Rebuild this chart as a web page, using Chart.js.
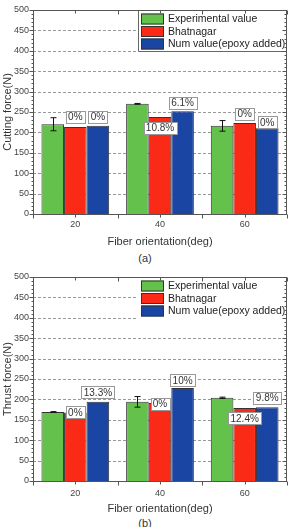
<!doctype html>
<html lang="en">
<head>
<meta charset="UTF-8">
<title>Cutting and thrust force</title>
<script src="https://cdn.jsdelivr.net/npm/chart.js@4.4.0/dist/chart.umd.min.js"></script>
<style>
  body { margin: 0; background: #fff; width: 290px; height: 527px; overflow: hidden; font-family: "Liberation Sans", Arial, sans-serif; }
  .box { position: relative; width: 290px; height: 250px; }
  .cap { height: 17px; line-height: 17px; text-align: center; font-size: 11px; color: #333; }
</style>
</head>
<body>
<div class="box"><canvas id="chartA"></canvas></div>
<div class="cap">(a)</div>
<div class="box"><canvas id="chartB"></canvas></div>
<div class="cap" style="line-height:12px">(b)</div>
<script>
// data
const orientations = ['20', '40', '60'];
const seriesNames = ['Experimental value', 'Bhatnagar', 'Num value(epoxy added)'];

const cutExp = [220, 270, 216];
const cutExpErr = [16, 1, 13];
const cutBhat = [213, 238, 223];
const cutNum = [216, 252, 210];
const cutBhatTags = ['0%', '10.8%', '0%'];
const cutNumTags = ['0%', '6.1%', '0%'];

const thrExp = [169, 194, 204];
const thrExpErr = [1, 13, 1.5];
const thrBhat = [168, 191, 179];
const thrNum = [194, 228, 181];
const thrBhatTags = ['0%', '0%', '12.4%'];
const thrNumTags = ['13.3%', '10%', '9.8%'];

const yTicks = [0, 50, 100, 150, 200, 250, 300, 350, 400, 450, 500];

const green = '#64c14c';
const red = '#fb2a17';
const blue = '#1b45a3';
const font = '"Liberation Sans", Arial, sans-serif';

// where the boxed % labels sit, px from bar top (centre of box)
const cutBhatOff = [-10, 11, -9.5];
const cutNumOff = [-9, -8.5, -6];
const thrBhatOff = [0, 1, 10.5];
const thrNumOff = [-9.5, -7.5, -9.5];

const dashGrid = {
  id: 'dashGrid',
  beforeDatasetsDraw(chart) {
    const ctx = chart.ctx;
    const a = chart.chartArea;
    const y = chart.scales.y;
    ctx.save();
    ctx.strokeStyle = '#999';
    ctx.lineWidth = 1;
    ctx.setLineDash([3, 2]);
    ctx.beginPath();
    yTicks.slice(1, -1).forEach(v => {
      const py = Math.round(y.getPixelForValue(v)) + 0.5;
      ctx.moveTo(a.left, py); ctx.lineTo(a.right, py);
    });
    ctx.stroke();
    ctx.restore();
  }
};

const errorBars = {
  id: 'errorBars',
  afterDatasetsDraw(chart) {
    const ds = chart.data.datasets[0];
    const meta = chart.getDatasetMeta(0);
    const y = chart.scales.y;
    const ctx = chart.ctx;
    ctx.save();
    ctx.strokeStyle = '#111';
    ctx.lineWidth = 1;
    meta.data.forEach((bar, i) => {
      const e = ds.errors[i];
      const top = y.getPixelForValue(ds.data[i] + e);
      const bot = y.getPixelForValue(ds.data[i] - e);
      const x = Math.round(bar.x) + 0.5;
      ctx.beginPath();
      ctx.moveTo(x, top); ctx.lineTo(x, bot);
      ctx.moveTo(x - 3, top); ctx.lineTo(x + 3, top);
      ctx.moveTo(x - 3, bot); ctx.lineTo(x + 3, bot);
      ctx.stroke();
    });
    ctx.restore();
  }
};

const boxTags = {
  id: 'boxTags',
  afterDatasetsDraw(chart) {
    const ctx = chart.ctx;
    ctx.save();
    ctx.font = '10px ' + font;
    ctx.textAlign = 'center';
    ctx.textBaseline = 'middle';
    [1, 2].forEach(d => {
      const ds = chart.data.datasets[d];
      chart.getDatasetMeta(d).data.forEach((bar, i) => {
        const t = ds.tags[i];
        const w = Math.round(ctx.measureText(t).width) + 5;
        const h = 12;
        const cy = bar.y + ds.tagOffsets[i];
        const x0 = Math.round(bar.x - w / 2) + 0.5;
        const y0 = Math.round(cy - h / 2) + 0.5;
        ctx.fillStyle = '#fff';
        ctx.fillRect(x0, y0, w, h);
        ctx.strokeStyle = '#999';
        ctx.lineWidth = 1;
        ctx.strokeRect(x0, y0, w, h);
        ctx.fillStyle = '#333';
        ctx.fillText(t, bar.x, cy + 0.5);
      });
    });
    ctx.restore();
  }
};

const insideLegend = {
  id: 'insideLegend',
  afterDraw(chart, args, opts) {
    const ctx = chart.ctx;
    const a = chart.chartArea;
    const left = a.right - 149;
    ctx.save();
    ctx.fillStyle = '#fff';
    ctx.fillRect(left, a.top + 1, a.right - left, 41);
    if (opts.border) {
      ctx.strokeStyle = '#666';
      ctx.lineWidth = 1;
      ctx.beginPath();
      ctx.moveTo(left + 0.5, a.top); ctx.lineTo(left + 0.5, a.top + 41.5);
      ctx.lineTo(a.right, a.top + 41.5);
      ctx.stroke();
    }
    ctx.font = '10.5px ' + font;
    ctx.textBaseline = 'middle';
    chart.data.datasets.forEach((ds, i) => {
      const ty = a.top + 3.5 + i * 12.5;
      ctx.fillStyle = ds.backgroundColor;
      ctx.fillRect(left + 3, ty, 23, 11);
      ctx.strokeStyle = '#333';
      ctx.strokeRect(left + 3.5, ty + 0.5, 22, 10);
      ctx.fillStyle = '#222';
      ctx.fillText(ds.label, left + 30, ty + 6);
    });
    ctx.restore();
  }
};

const frame = {
  id: 'frame',
  afterDraw(chart) {
    const ctx = chart.ctx;
    const a = chart.chartArea;
    const y = chart.scales.y;
    ctx.save();
    ctx.strokeStyle = '#555';
    ctx.lineWidth = 1;
    const L = Math.round(a.left) + 0.5, R = Math.round(a.right) - 0.5;
    const T = Math.round(a.top) + 0.5, B = Math.round(a.bottom) + 0.5;
    ctx.strokeRect(L, T, R - L, B - T);
    ctx.beginPath();
    for (let v = 0; v <= 500; v += 10) {
      const py = Math.round(y.getPixelForValue(v)) + 0.5;
      const len = v % 50 === 0 ? 4 : 2;
      ctx.moveTo(L - len, py); ctx.lineTo(L, py);
      ctx.moveTo(R, py); ctx.lineTo(R - len, py);
    }
    const step = (a.right - a.left) / orientations.length;
    for (let k = 0; k <= orientations.length * 2; k++) {
      const px = Math.round(a.left + k * step / 2) + 0.5;
      const len = k % 2 === 0 ? 4 : 3;
      ctx.moveTo(px, B); ctx.lineTo(px, B + len);
      ctx.moveTo(px, T); ctx.lineTo(px, T + len);
    }
    ctx.stroke();
    ctx.restore();
  }
};

function makeChart(id, yTitle, exp, err, bhat, num, bhatTags, numTags, bhatOff, numOff, tickPad, legendBorder) {
  return new Chart(document.getElementById(id), {
    type: 'bar',
    data: {
      labels: orientations,
      datasets: [
        { label: seriesNames[0], data: exp, backgroundColor: green, borderColor: '#333', borderWidth: 1, errors: err },
        { label: seriesNames[1], data: bhat, backgroundColor: red, borderColor: '#333', borderWidth: 1, tags: bhatTags, tagOffsets: bhatOff },
        { label: seriesNames[2], data: num, backgroundColor: blue, borderColor: '#333', borderWidth: 1, tags: numTags, tagOffsets: numOff }
      ]
    },
    options: {
      responsive: true,
      maintainAspectRatio: false,
      animation: false,
      layout: { padding: { top: 10, right: 3, left: 0, bottom: 0 } },
      datasets: { bar: { categoryPercentage: 0.8, barPercentage: 1.0 } },
      plugins: {
        legend: { display: false },
        tooltip: { enabled: false },
        insideLegend: { border: legendBorder }
      },
      scales: {
        x: {
          grid: { display: false, drawTicks: false },
          border: { display: false },
          ticks: { font: { size: 9, family: font }, color: '#444', padding: tickPad },
          title: { display: true, text: 'Fiber orientation(deg)', font: { size: 11, family: font }, color: '#333', padding: { top: 0, bottom: 1 } },
          afterFit(s) { s.height = 36; }
        },
        y: {
          min: yTicks[0],
          max: yTicks[yTicks.length - 1],
          grid: { display: false, drawTicks: false },
          border: { display: false },
          ticks: { stepSize: 50, font: { size: 9, family: font }, color: '#444', padding: 4 },
          title: { display: true, text: yTitle, font: { size: 11, family: font }, color: '#333', padding: { top: 1, bottom: 0 } },
          afterFit(s) { s.width = 33; }
        }
      }
    },
    plugins: [dashGrid, errorBars, boxTags, insideLegend, frame]
  });
}

makeChart('chartA', 'Cutting force(N)', cutExp, cutExpErr, cutBhat, cutNum,
  cutBhatTags, cutNumTags, cutBhatOff, cutNumOff, 5, true);
makeChart('chartB', 'Thrust force(N)', thrExp, thrExpErr, thrBhat, thrNum,
  thrBhatTags, thrNumTags, thrBhatOff, thrNumOff, 7, false);
</script>
</body>
</html>
